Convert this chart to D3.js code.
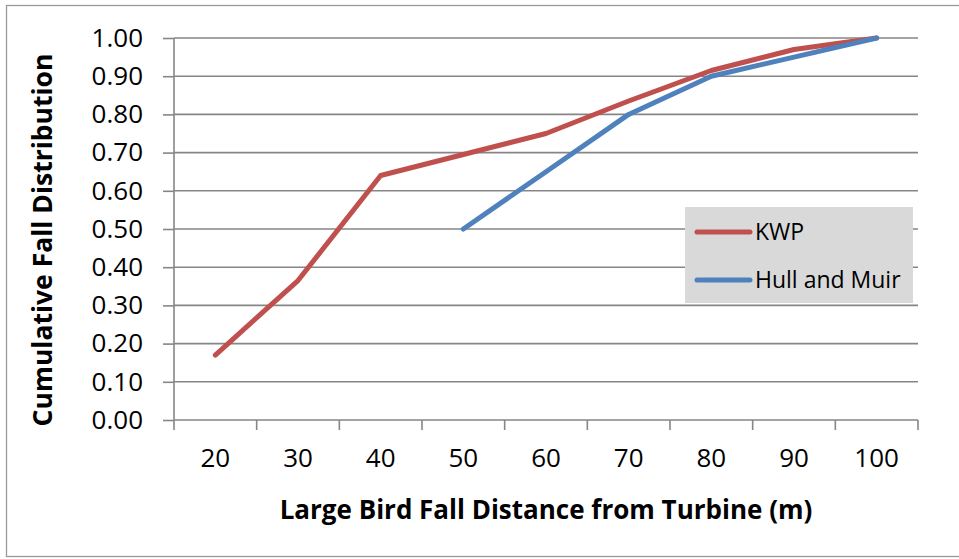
<!DOCTYPE html>
<html>
<head>
<meta charset="utf-8">
<script src="https://cdn.jsdelivr.net/npm/d3@7"></script>
<style>
  html, body { margin: 0; padding: 0; background: #fff; }
  svg { display: block; }
  text { font-family: "Open Sans", "DejaVu Sans", sans-serif; fill: #000; }
</style>
</head>
<body>
<svg id="chart" width="959" height="559"></svg>
<script>
const categories = [20, 30, 40, 50, 60, 70, 80, 90, 100];
const kwpValues = [0.17, 0.365, 0.64, 0.695, 0.75, 0.835, 0.915, 0.97, 1.0];
const hullMuirValues = [null, null, null, 0.50, 0.65, 0.80, 0.90, 0.95, 1.0];
const yTicks = [0, 0.1, 0.2, 0.3, 0.4, 0.5, 0.6, 0.7, 0.8, 0.9, 1.0];
const seriesNames = ["KWP", "Hull and Muir"];
const seriesColors = ["#C0504D", "#4F81BD"];
const xTitle = "Large Bird Fall Distance from Turbine (m)";
const yTitle = "Cumulative Fall Distribution";

const svg = d3.select("#chart");
const plotLeft = 174, plotRight = 918, plotTop = 38, plotBottom = 420;
const grid = "#868686";

// outer chart border
svg.append("rect").attr("x", 6.5).attr("y", 5.5).attr("width", 970).attr("height", 551)
  .attr("fill", "none").attr("stroke", "#9a9a9a").attr("stroke-width", 1.3);

const x = d3.scaleBand().domain(categories).range([plotLeft, plotRight]).padding(0);
const y = d3.scaleLinear().domain([0, 1]).range([plotBottom, plotTop]);

// gridlines
svg.append("g").selectAll("line").data(yTicks.slice(1)).join("line")
  .attr("x1", plotLeft).attr("x2", plotRight)
  .attr("y1", d => y(d)).attr("y2", d => y(d))
  .attr("stroke", grid).attr("stroke-width", 1.6);

// y axis
const yAxis = d3.axisLeft(y).tickValues(yTicks).tickFormat(d3.format(".2f")).tickSize(11).tickPadding(20);
const gy = svg.append("g").attr("transform", `translate(${plotLeft},0)`).call(yAxis);
gy.select(".domain").attr("stroke", grid).attr("stroke-width", 1.6).attr("d", `M0,${plotBottom}V${plotTop}`);
gy.selectAll(".tick line").attr("stroke", grid).attr("stroke-width", 1.6);
gy.selectAll(".tick text").attr("font-size", 26).attr("font-family", "Open Sans").attr("fill", "#000");

// x axis
const xAxis = d3.axisBottom(x).tickSize(0).tickPadding(29);
const gx = svg.append("g").attr("transform", `translate(0,${plotBottom})`).call(xAxis);
gx.select(".domain").attr("stroke", grid).attr("stroke-width", 1.6).attr("d", `M${plotLeft},0H${plotRight}`);
gx.selectAll(".tick text").attr("font-size", 26).attr("font-family", "Open Sans").attr("fill", "#000");
// category boundary tick marks
const boundaries = categories.map(c => x(c)).concat([x(categories[categories.length - 1]) + x.bandwidth()]);
gx.append("g").selectAll("line").data(boundaries).join("line")
  .attr("x1", d => d).attr("x2", d => d).attr("y1", 0).attr("y2", 10)
  .attr("stroke", grid).attr("stroke-width", 1.6);

// lines
const line = d3.line()
  .defined(d => d.v !== null)
  .x(d => x(d.c) + x.bandwidth() / 2)
  .y(d => y(d.v));

[kwpValues, hullMuirValues].forEach((vals, i) => {
  const data = categories.map((c, j) => ({ c, v: vals[j] }));
  svg.append("path").datum(data)
    .attr("fill", "none").attr("stroke", seriesColors[i]).attr("stroke-width", 5)
    .attr("stroke-linejoin", "round").attr("stroke-linecap", "round")
    .attr("d", line);
});

// axis titles
svg.append("text").attr("x", 546).attr("y", 519).attr("text-anchor", "middle")
  .attr("font-size", 26).attr("font-weight", "bold").text(xTitle);
svg.append("text").attr("transform", "translate(52,240) rotate(-90)").attr("text-anchor", "middle")
  .attr("font-size", 26.5).attr("font-weight", "bold").text(yTitle);

// legend
const lg = svg.append("g");
lg.append("rect").attr("x", 685).attr("y", 207).attr("width", 228).attr("height", 96).attr("fill", "#D9D9D9");
seriesNames.forEach((name, i) => {
  const cy = 232 + i * 48;
  lg.append("line").attr("x1", 697).attr("x2", 750).attr("y1", cy).attr("y2", cy)
    .attr("stroke", seriesColors[i]).attr("stroke-width", 5).attr("stroke-linecap", "round");
  lg.append("text").attr("x", 755).attr("y", cy + 8).attr("font-size", 23).text(name);
});
</script>
</body>
</html>
